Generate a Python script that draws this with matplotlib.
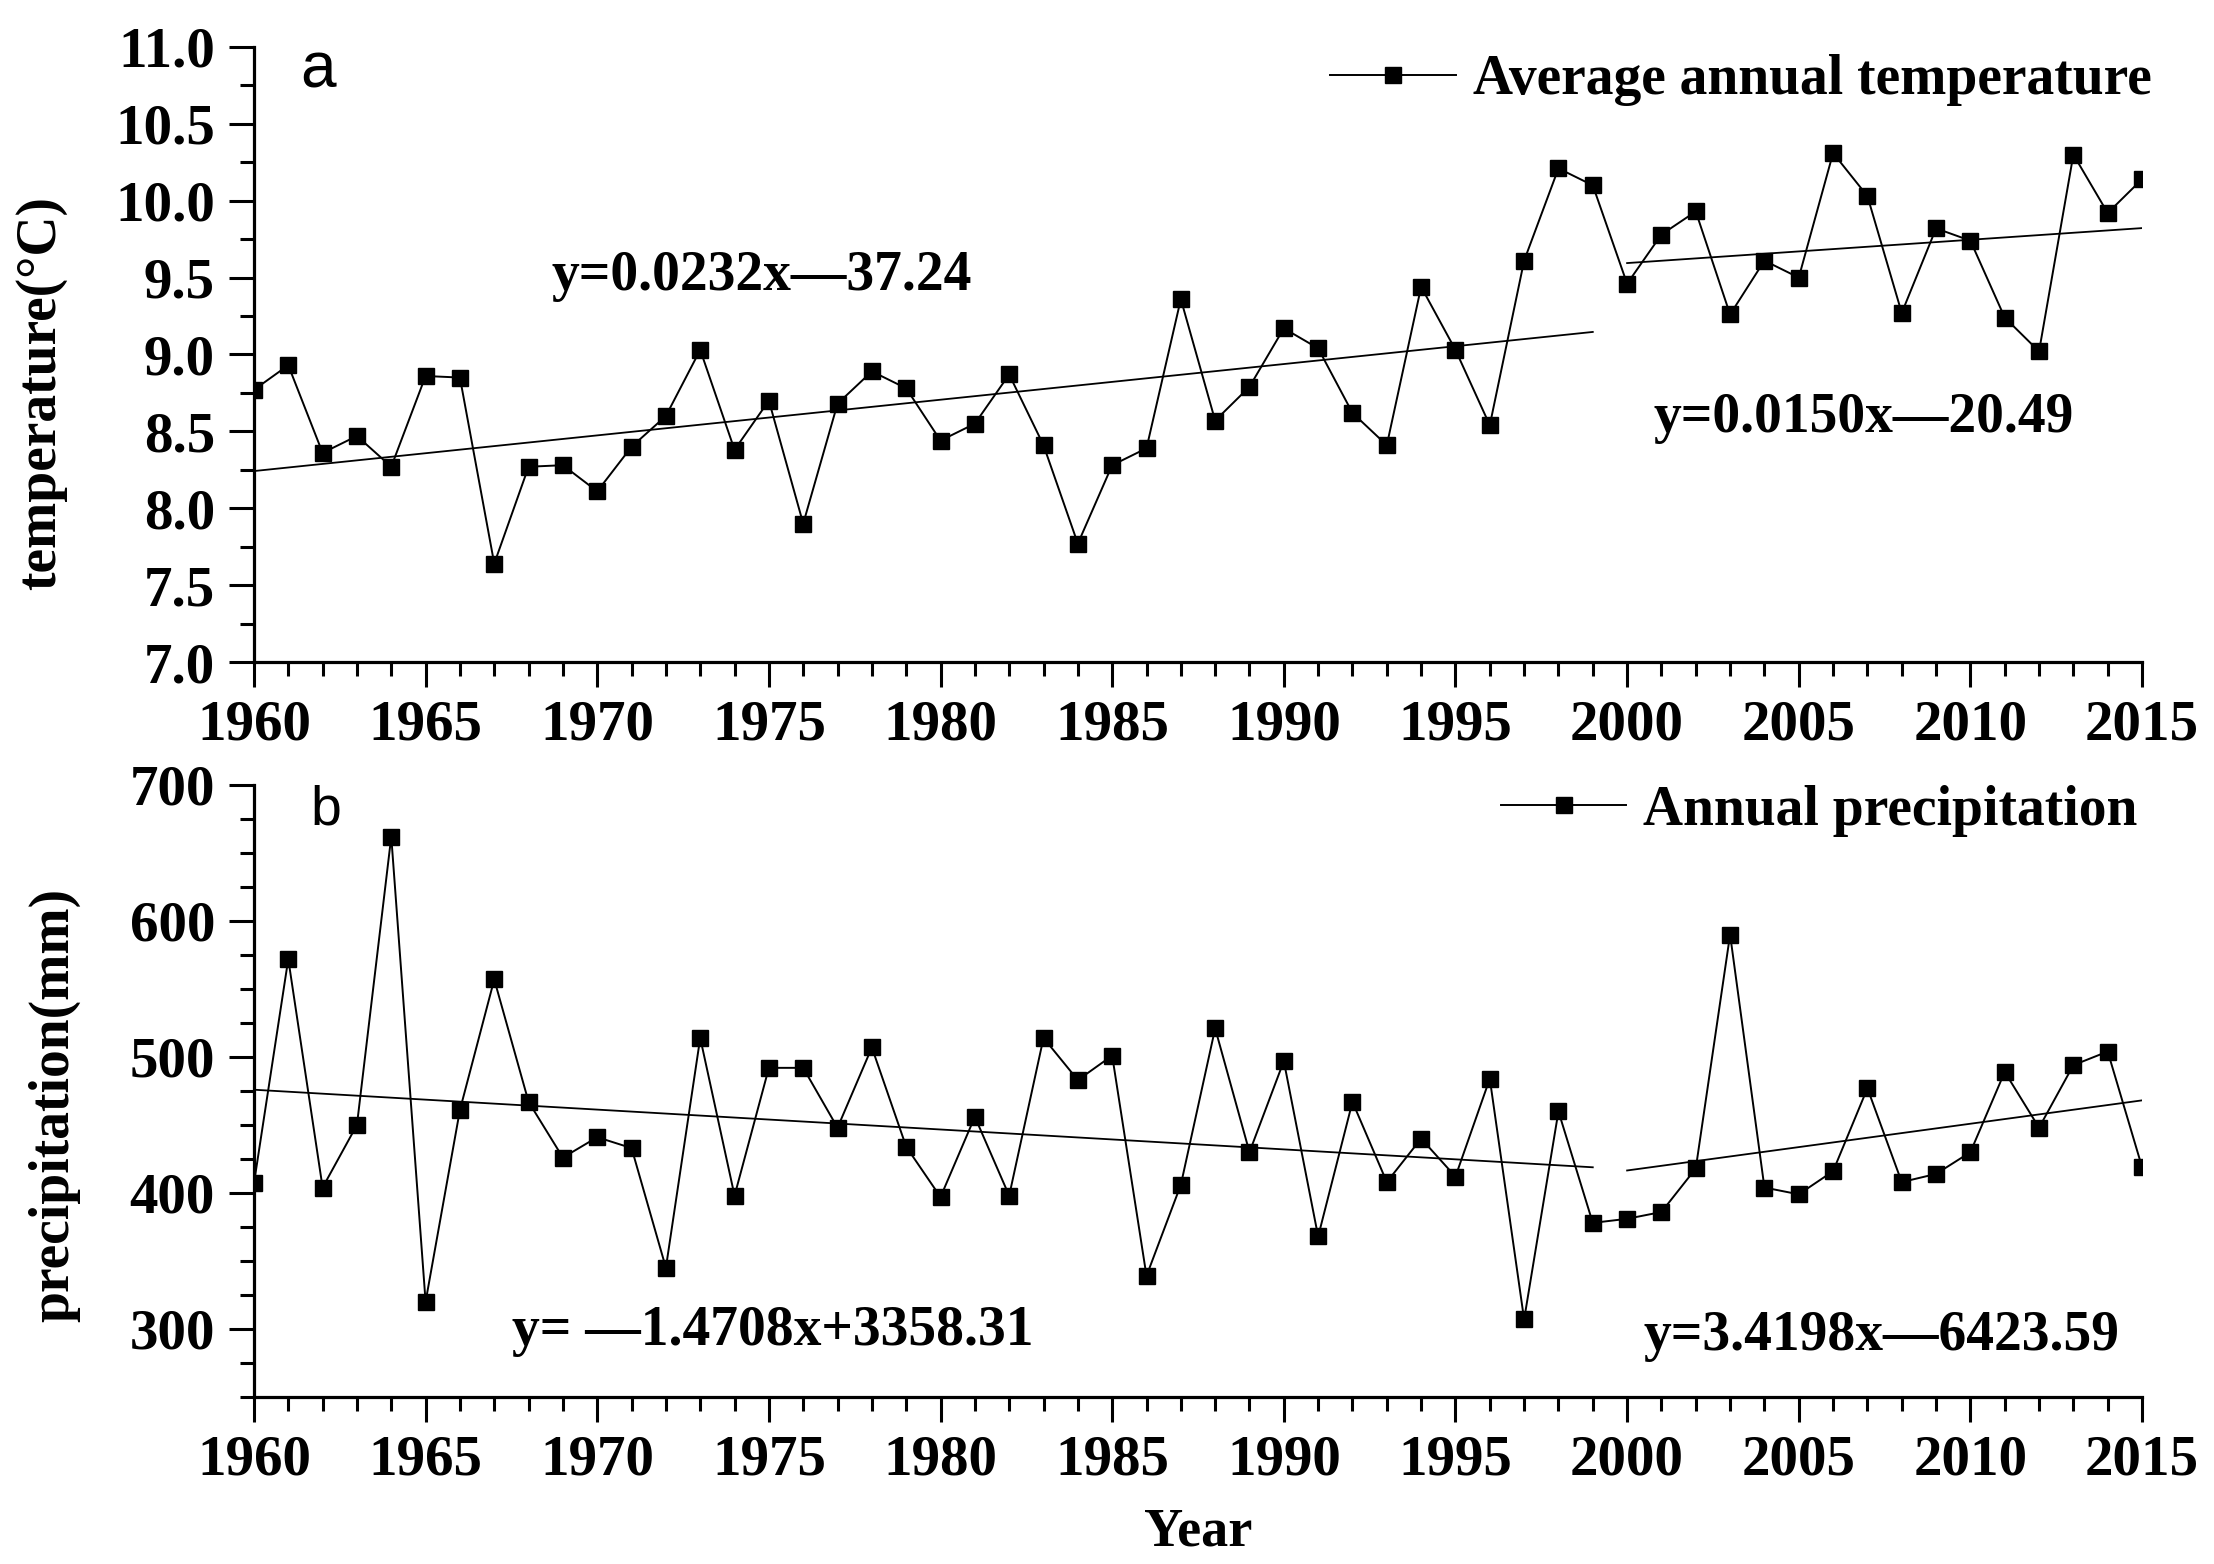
import numpy as np
import matplotlib
matplotlib.use("Agg")
import matplotlib.pyplot as plt
from matplotlib.ticker import MultipleLocator, FormatStrFormatter

# Datos
years = list(range(1960, 2016))

temperature = [8.77, 8.93, 8.36, 8.47, 8.27, 8.86, 8.85, 7.64, 8.27, 8.28,
               8.11, 8.40, 8.60, 9.03, 8.38, 8.70, 7.90, 8.68, 8.89, 8.78,
               8.44, 8.55, 8.87, 8.41, 7.77, 8.28, 8.39, 9.36, 8.57, 8.79,
               9.17, 9.04, 8.62, 8.41, 9.44, 9.03, 8.54, 9.61, 10.21, 10.10,
               9.46, 9.78, 9.93, 9.26, 9.61, 9.50, 10.31, 10.03, 9.27, 9.82,
               9.74, 9.24, 9.02, 10.30, 9.92, 10.14]

precipitation = [407, 572, 404, 450, 662, 320, 461, 557, 467, 426,
                 441, 433, 345, 514, 398, 492, 492, 448, 507, 434,
                 397, 456, 398, 514, 483, 501, 339, 406, 521, 430,
                 497, 368, 467, 408, 440, 412, 484, 307, 460, 378,
                 381, 386, 418, 590, 404, 399, 416, 477, 408, 414,
                 430, 489, 448, 494, 504, 419]

# periodos para las tendencias
periods = [(1960, 1999), (2000, 2015)]
temp_equations = ["y=0.0232x\u201437.24", "y=0.0150x\u201420.49"]
prec_equations = ["y= \u20141.4708x+3358.31", "y=3.4198x\u20146423.59"]

plt.rcParams['font.family'] = ['Liberation Serif', 'DejaVu Serif']
plt.rcParams['font.weight'] = 'bold'
plt.rcParams['axes.labelweight'] = 'bold'

fig = plt.figure(figsize=(22.14, 15.64), dpi=100)
ax1 = fig.add_axes([0.1147, 0.5767, 0.8528, 0.3933])
ax2 = fig.add_axes([0.1147, 0.1068, 0.8528, 0.3913])

yrs = np.array(years)


def style_axis(ax):
    for side in ["top", "right"]:
        ax.spines[side].set_visible(False)
    for side in ["left", "bottom"]:
        ax.spines[side].set_linewidth(2.3)
    ax.xaxis.set_major_locator(MultipleLocator(5))
    ax.xaxis.set_minor_locator(MultipleLocator(1))
    ax.tick_params(which="major", length=18, width=2.2, labelsize=41, pad=9)
    ax.tick_params(which="minor", length=10, width=2.2)
    ax.tick_params(axis="y", which="major", pad=10)
    ax.set_xlim(1960, 2015)


def plot_series(ax, values, label):
    line, = ax.plot(years, values, color="black", lw=1.4, marker="s",
                    ms=11, mew=1, label=label)
    vals = np.array(values)
    for start, end in periods:
        mask = (yrs >= start) & (yrs <= end)
        coef = np.polyfit(yrs[mask], vals[mask], 1)
        xx = np.array([start, end])
        ax.plot(xx, np.polyval(coef, xx), color="black", lw=1.3)
    return line


# Panel a: temperatura
plot_series(ax1, temperature, "Average annual temperature")
style_axis(ax1)
ax1.set_ylim(7.0, 11.0)
ax1.yaxis.set_major_locator(MultipleLocator(0.5))
ax1.yaxis.set_minor_locator(MultipleLocator(0.25))
ax1.yaxis.set_major_formatter(FormatStrFormatter('%.1f'))
ax1.set_ylabel("temperature(\u00b0C)", fontsize=40)
ax1.yaxis.set_label_coords(-0.099, 0.437)
ax1.legend(loc="center left", bbox_to_anchor=(0.6007, 0.9488),
           bbox_transform=fig.transFigure, frameon=False, fontsize=40,
           handlelength=2.27, handletextpad=0.3, borderpad=0, borderaxespad=0)

# Panel b: precipitacion
plot_series(ax2, precipitation, "Annual precipitation")
style_axis(ax2)
ax2.set_ylim(250, 700)
ax2.yaxis.set_major_locator(MultipleLocator(100))
ax2.yaxis.set_minor_locator(MultipleLocator(25))
ax2.set_ylabel("precipitation(mm)", fontsize=40)
ax2.yaxis.set_label_coords(-0.092, 0.477)
ax2.set_xlabel("Year", fontsize=39)
ax2.xaxis.set_label_coords(0.5, -0.18)
ax2.legend(loc="center left", bbox_to_anchor=(0.678, 0.4815),
           bbox_transform=fig.transFigure, frameon=False, fontsize=40,
           handlelength=2.25, handletextpad=0.3, borderpad=0, borderaxespad=0)

# Ecuaciones
fig.text(551 / 2214, 1 - 276 / 1564, temp_equations[0], fontsize=40,
         fontweight="bold", va="center", ha="left")
fig.text(1654 / 2214, 1 - 418 / 1564, temp_equations[1], fontsize=40,
         fontweight="bold", va="center", ha="left")
fig.text(512 / 2214, 1 - 1331 / 1564, prec_equations[0], fontsize=40,
         fontweight="bold", va="center", ha="left")
fig.text(1644 / 2214, 1 - 1336 / 1564, prec_equations[1], fontsize=40,
         fontweight="bold", va="center", ha="left")

# Etiquetas de panel
fig.text(300 / 2214, 1 - 70 / 1564, "a", fontsize=46, fontweight="normal",
         family="Liberation Sans", va="center", ha="left")
fig.text(310 / 2214, 1 - 811 / 1564, "b", fontsize=40, fontweight="normal",
         family="Liberation Sans", va="center", ha="left")

fig.savefig("out.png", dpi=100)
